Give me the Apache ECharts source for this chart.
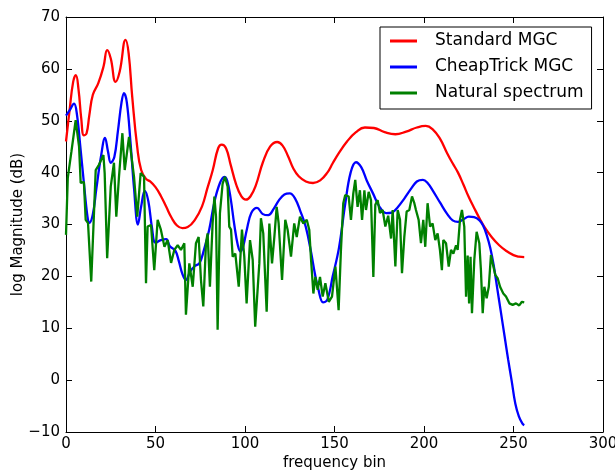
<!DOCTYPE html>
<html>
<head>
<meta charset="utf-8">
<script src="https://cdn.jsdelivr.net/npm/echarts/dist/echarts.min.js"></script>
<style>
  html, body { margin: 0; padding: 0; background: #fff; }
  #chart { width: 615px; height: 473px; }
</style>
</head>
<body>
<div id="chart"></div>
<script>
/* ===== 数据 (frequency bin, log magnitude dB) ===== */
const seriesNames = ["Standard MGC", "CheapTrick MGC", "Natural spectrum"];
const xTicks = [0, 50, 100, 150, 200, 250, 300];
const yTicks = [-10, 0, 10, 20, 30, 40, 50, 60, 70];

const standardMgc = [
    [0, 46], [2, 52], [4, 57.5], [5.5, 58.8], [7, 56], [8.5, 50.5], [10, 47.2], [11.5, 47.6],
    [13, 51], [15, 55], [18, 57.2], [21, 60.5], [23, 63.6], [25, 62], [27.7, 57.5],
    [30, 59.5], [33.3, 65.6], [35, 63], [37, 54.6], [39.8, 44.9], [42, 40.5], [44.7, 38.8],
    [47, 38.3], [50, 37.2], [53, 35.5], [56, 33.4], [59, 31.3], [62, 29.8], [65, 29.3],
    [68, 29.5], [72, 30.9], [76, 33.5], [79, 37], [82, 40.5], [85, 44.7], [87, 45.4], [89.4, 44.7],
    [92, 41.5], [95, 37.8], [98, 35.4], [100.5, 34.8], [103, 35.4], [106, 37.5], [110, 42],
    [114, 45], [118, 45.9], [121, 45.2], [124, 43.2], [127, 40.8], [130, 39.3], [134, 38.3],
    [138, 38], [142, 38.5], [146, 40], [149, 41.8], [152.5, 43.8], [157, 46], [162, 47.8],
    [167, 48.7], [172, 48.6], [178, 47.8], [184, 47.4], [190, 47.9], [196, 48.7], [201, 49],
    [205, 48.3], [209, 46.5], [213, 43.7], [216, 41.8], [219, 40], [222, 37.7], [225, 35.3],
    [228, 33.2], [231, 31.2], [234, 29.4], [238, 27.5], [242, 26], [246, 24.9], [250, 24.1],
    [253, 23.8], [256, 23.7]
];

const cheapTrickMgc = [
    [0, 51], [2, 52], [4.5, 53.3], [6, 51.5], [8, 45], [10, 38], [12, 31.5], [13, 30.3],
    [15, 32], [17, 37], [19.5, 43], [21.8, 46.7], [23.5, 44], [25, 41.9], [27, 43], [29, 48],
    [31, 53.5], [32.4, 55.3], [34, 53.5], [36, 46], [38, 37], [40.2, 30], [42, 33.5], [44, 36.5],
    [46, 34.5], [48, 29.5], [50, 26.5], [53, 27], [56, 27.2], [58, 25.8], [61, 25], [63, 23],
    [65, 20.5], [67, 19.3], [69.5, 21], [72, 22], [74.5, 22.5], [77, 25], [80, 29], [83, 34.5],
    [86, 38], [88.4, 39.2], [90, 38.5], [92, 35], [94, 30], [96, 26], [97.5, 24.8], [99, 25.8],
    [101, 29], [103.5, 32.2], [106.7, 33.2], [110, 32], [113, 31.8], [116, 33], [119, 34.7],
    [122, 35.8], [125, 36], [128, 35], [131, 32.5], [134, 29.5], [137, 24.5], [139, 20.6],
    [141, 17.5], [143.6, 15], [146, 15.5], [149, 20], [152.5, 25.5], [156, 34], [159, 40],
    [162, 42], [165, 41], [168, 38.5], [171.5, 36], [175, 33.5], [178.8, 32.2], [182, 32.3],
    [185, 33.2], [189, 35], [193, 37], [196, 38.3], [199.4, 38.6], [202, 38], [205, 36.5],
    [209, 34.2], [213, 32], [216, 30.8], [219, 30.5], [222, 31], [225, 31.5], [228, 31.4],
    [231, 30.8], [233, 29.8], [235, 28], [237, 25.5], [239, 22], [241, 17.5], [243, 13],
    [245, 8.5], [247, 4], [249, -0.2], [251, -4.5], [253, -7], [255, -8.4], [256, -8.7]
];

const naturalSpectrum = [
    [0, 28], [1, 39], [3, 44], [5.4, 50.1], [7.3, 45], [8.2, 38], [10, 38.2], [11, 30.9],
    [12.3, 30.3], [14.1, 19], [16.6, 40.5], [18.4, 41.5], [20.9, 43.4], [21.6, 39.9], [23, 23.5],
    [25, 37.3], [26.8, 41.9], [28.1, 31.5], [29.6, 39.2], [31.5, 47.6], [32.8, 40.5], [35.2, 46.9],
    [38, 39.2], [39.8, 31.5], [41.7, 39.9], [43.6, 39.2], [44.7, 18.7], [45.6, 29.6], [47.5, 29.9],
    [49.3, 21.2], [51.2, 30.9], [53, 29], [55, 25.7], [56.8, 27], [58.7, 22.6], [60.5, 25.1],
    [62.4, 26], [64.2, 25.1], [66.1, 26.4], [67, 12.6], [68.9, 22.5], [70.8, 18], [72.6, 26.4],
    [74.1, 27.6], [75.4, 19.3], [76.7, 14.2], [78.2, 26.4], [79.1, 28.3], [80.4, 18], [81.9, 30.2],
    [82.9, 35.4], [83.8, 31.5], [84.7, 9.7], [86, 32.2], [87.5, 37.9], [88.8, 39.2], [90.3, 37.3],
    [91.2, 29.6], [92.2, 29], [93.1, 23.8], [94.6, 24.4], [96.5, 18], [98.3, 29], [99.6, 23.8],
    [100.9, 14.8], [102.8, 27], [104.3, 23.2], [105.7, 10.3], [108, 22.5], [108.9, 31.2],
    [110.2, 28.3], [112.1, 13.2], [113.6, 30.2], [115.1, 22.5], [116.4, 27.6], [117.7, 33.4],
    [118.8, 30.2], [120.7, 19.3], [122.5, 30.9], [123.8, 29], [125.7, 23.8], [127.5, 30.2],
    [128.9, 27.6], [130.7, 31.5], [132.6, 30.2], [134.5, 30.9], [135.9, 29], [136.9, 23.2],
    [138.2, 16.7], [139.3, 19.9], [140.6, 17.4], [141.9, 19.9], [143.4, 16.1], [144.9, 18.7],
    [146.8, 15.1], [148.6, 16.1], [150.5, 21.9], [152.3, 13.5], [153.6, 25.1], [154.9, 34.1],
    [156, 35.7], [157.9, 35.4], [159.2, 30.9], [160.5, 36], [161.6, 38.6], [162.9, 33.4],
    [164.2, 36.6], [165.4, 30.9], [166.7, 36.6], [167.6, 32.8], [169.1, 36.3], [170.4, 34.7],
    [171.7, 19.9], [172.8, 33.8], [174.1, 34.7], [175.4, 32.2], [176.9, 32.8], [178.4, 29.6],
    [180, 31.7], [181.6, 27.3], [182.5, 32.8], [184, 21.9], [185.3, 32.8], [186.6, 30.9],
    [187.7, 20.6], [189, 27.6], [190.3, 32.5], [191.8, 32.8], [193.3, 35.4], [194.6, 34.1],
    [195.5, 32.8], [197, 30.9], [198.3, 26.4], [199.6, 30.9], [200.7, 25.7], [202, 34.1],
    [203.4, 29.6], [204.8, 30.2], [206.3, 27], [207.6, 28.3], [208.9, 25.1], [210, 21.2],
    [210.8, 27], [212.3, 26.4], [213.8, 21.9], [215.1, 25.1], [216.4, 24.4], [217.9, 26],
    [218.8, 25.1], [220.1, 30.9], [221.2, 32.8], [222.5, 29.6], [223.5, 16.1], [224.4, 24],
    [225.2, 14.8], [226, 23.8], [226.8, 12.9], [228.1, 23.2], [229.4, 28.6], [230.9, 26.4],
    [231.8, 21.2], [232.8, 12.9], [233.7, 18], [235, 15.8], [236.2, 18], [237.4, 24.1],
    [238.4, 22.5], [239.8, 20.3], [241.2, 19.6], [242.5, 18], [244.3, 16.7], [245.8, 16.1],
    [247.7, 14.8], [249.5, 14.5], [251.4, 14.8], [253.2, 14.4], [254.7, 15.1], [256, 15]
];

const colors = ["#ff0000", "#0000ff", "#008000"];

/* ===== 坐标轴 ===== */
const FONT = "DejaVu Sans";
const minus = v => String(v).replace("-", "\u2212");

function frameAxis(pos, extra) {
    return Object.assign({
        type: "value",
        position: pos,
        axisLine: { show: true, onZero: false, lineStyle: { color: "#000", width: 1 } },
        axisTick: { show: true, inside: true, length: 6, lineStyle: { color: "#000" } },
        axisLabel: { show: false },
        splitLine: { show: false },
    }, extra);
}

const xRange = { min: xTicks[0], max: xTicks[xTicks.length - 1], interval: xTicks[1] - xTicks[0] };
const yRange = { min: yTicks[0], max: yTicks[yTicks.length - 1], interval: yTicks[1] - yTicks[0] };

const option = {
    animation: false,
    backgroundColor: "#fff",
    grid: { left: 66, right: 12, top: 17, bottom: 41, containLabel: false, outerBoundsMode: "none" },
    xAxis: [
        frameAxis("bottom", Object.assign({}, xRange, {
            name: "frequency bin",
            nameLocation: "middle",
            nameGap: 24,
            nameMoveOverlap: false,
            nameTextStyle: { fontFamily: FONT, fontSize: 15, color: "#000" },
            axisLabel: { show: true, margin: 5, fontFamily: FONT, fontSize: 15, color: "#000" },
        })),
        frameAxis("top", Object.assign({}, xRange)),
    ],
    yAxis: [
        frameAxis("left", Object.assign({}, yRange, {
            name: "log Magnitude (dB)",
            nameLocation: "middle",
            nameGap: 40,
            nameMoveOverlap: false,
            nameTextStyle: { fontFamily: FONT, fontSize: 15, color: "#000" },
            axisLabel: { show: true, margin: 6, fontFamily: FONT, fontSize: 15, color: "#000", formatter: minus },
        })),
        frameAxis("right", Object.assign({}, yRange)),
    ],
    legend: {
        orient: "vertical",
        left: 380,
        top: 27,
        data: seriesNames,
        icon: "rect",
        itemWidth: 27,
        itemHeight: 3,
        itemGap: 6,
        padding: [4, 8, 6, 10],
        borderColor: "#000",
        borderWidth: 1,
        backgroundColor: "#fff",
        textStyle: { fontFamily: FONT, fontSize: 17, color: "#000", lineHeight: 20, padding: [0, 0, 0, 13] },
    },
    series: [
        { name: seriesNames[0], data: standardMgc, smooth: 0.45, color: colors[0] },
        { name: seriesNames[1], data: cheapTrickMgc, smooth: 0.4, color: colors[1] },
        { name: seriesNames[2], data: naturalSpectrum, smooth: false, color: colors[2] },
    ].map(s => Object.assign({
        type: "line",
        showSymbol: false,
        symbol: "none",
        clip: true,
        lineStyle: { width: 2.3, color: s.color },
        itemStyle: { color: s.color },
    }, s)),
};

/* ===== 启动 ===== */
document.addEventListener("DOMContentLoaded", () => {
    const chart = echarts.init(document.getElementById("chart"), null, { renderer: "canvas" });
    chart.setOption(option);
});
</script>
</body>
</html>
